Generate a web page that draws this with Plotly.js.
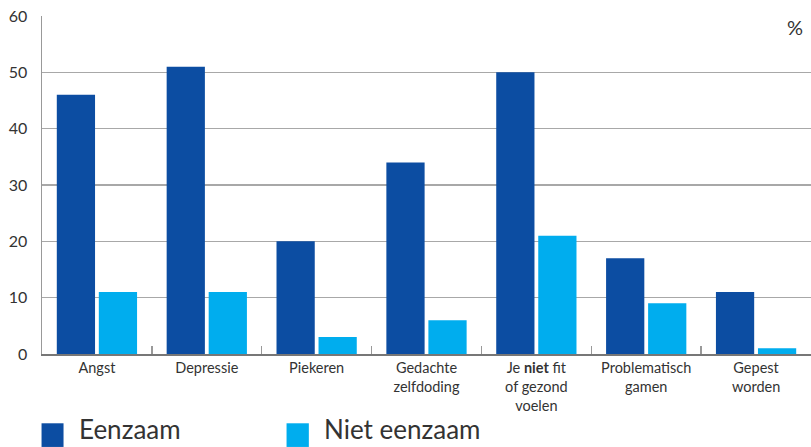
<!DOCTYPE html>
<html><head><meta charset="utf-8">
<script src="https://cdn.plot.ly/plotly-3.0.1.min.js"></script>
<style>html,body{margin:0;padding:0;background:#fff}#c{width:811px;height:447px}</style>
</head><body><div id="c"></div>
<script>
const categories = ["Angst","Depressie","Piekeren","Gedachte<br>zelfdoding","Je <b>niet</b> fit<br>of gezond<br>voelen","Problematisch<br>gamen","Gepest<br>worden"];
const eenzaam = [46,51,20,34,50,17,11];
const nietEenzaam = [11,11,3,6,21,9,1];
const seriesNames = ["Eenzaam","Niet eenzaam"];
const colors = ["#0c4da2","#00adee"];
const yTicks = [0,10,20,30,40,50,60];

const font = "Lato, 'Open Sans', sans-serif";
const data = [
  {type:'bar', x:categories, y:eenzaam, name:seriesNames[0], marker:{color:colors[0]}},
  {type:'bar', x:categories, y:nietEenzaam, name:seriesNames[1], marker:{color:colors[1]}}
];
const layout = {
  width:811, height:447,
  margin:{l:42, r:0, t:16, b:93},
  showlegend:false,
  barmode:'group', bargap:0.235, bargroupgap:0.09,
  paper_bgcolor:'#fff', plot_bgcolor:'#fff',
  font:{family:font, color:'#333'},
  xaxis:{
    showline:true, linecolor:'#777', linewidth:2,
    ticks:'inside', tickson:'boundaries', ticklen:8, tickcolor:'#999', tickwidth:1.5,
    tickfont:{size:14.5, color:'#333', family:font},
    showgrid:false, zeroline:false, fixedrange:true
  },
  yaxis:{
    range:[0,60], tickvals:yTicks, ticktext:yTicks.map(String),
    showline:true, linecolor:'#999', linewidth:1.5,
    showgrid:true, gridcolor:'#a8a8a8', gridwidth:1.5,
    zeroline:false, ticks:'', ticklabelstandoff:10,
    tickfont:{size:16, color:'#333', family:font}
  },
  shapes:[
    {type:'rect', xref:'paper', yref:'paper', x0:-0.0006, x1:0.028, y0:-0.205, y1:-0.275, fillcolor:colors[0], line:{width:0}},
    {type:'rect', xref:'paper', yref:'paper', x0:0.318, x1:0.347, y0:-0.205, y1:-0.275, fillcolor:colors[1], line:{width:0}}
  ],
  annotations:[
    {xref:'paper', yref:'paper', x:1, y:0.968, xanchor:'right', yanchor:'middle', text:'%', showarrow:false, xshift:-6, font:{size:20, color:'#333', family:font}},
    {xref:'paper', yref:'paper', x:0.046, y:-0.2751, xanchor:'left', yanchor:'bottom', text:seriesNames[0], showarrow:false, font:{size:26, color:'#333', family:font}},
    {xref:'paper', yref:'paper', x:0.364, y:-0.2751, xanchor:'left', yanchor:'bottom', text:seriesNames[1], showarrow:false, font:{size:26, color:'#333', family:font}}
  ]
};
Plotly.newPlot('c', data, layout, {displayModeBar:false, staticPlot:true});
</script></body></html>
